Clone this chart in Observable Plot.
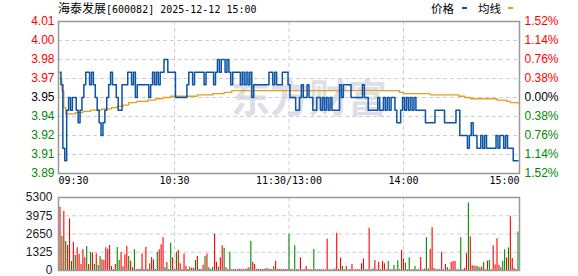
<!DOCTYPE html>
<html>
<head>
<meta charset="utf-8">
<script src="https://cdn.jsdelivr.net/npm/d3@7"></script>
<script src="https://cdn.jsdelivr.net/npm/@observablehq/plot@0.6"></script>
<style>
  html, body { margin: 0; padding: 0; background: #fff; }
  #wrap { position: relative; width: 578px; height: 276px; overflow: hidden; }
  .abs { position: absolute; white-space: nowrap; }
  .cjk { font-family: "Noto Sans CJK SC", sans-serif; font-size: 12px; }
  .mono { font-family: "DejaVu Sans Mono", monospace; font-size: 10px; }
</style>
</head>
<body>
<div id="wrap">
  <div id="price" class="abs" style="left:0;top:0"></div>
  <div id="vol" class="abs" style="left:0;top:190px"></div>
  <div id="title" class="abs" style="left:58px;top:0px;line-height:16px;color:#000"></div>
  <div id="legend" class="abs" style="left:0;top:0;width:578px;height:16px"></div>
</div>
<script>
// ---- data ----
const stockName = "海泰发展";
const stockMeta = "[600082] 2025-12-12 15:00";
const legendPrice = "价格";
const legendAvg = "均线";
const watermark = "东方财富";

const prevClose = 3.95;
const priceTicks = [3.89, 3.905, 3.92, 3.935, 3.95, 3.965, 3.98, 3.995, 4.01];
const priceLabels = ["3.89", "3.91", "3.92", "3.94", "3.95", "3.97", "3.98", "4.00", "4.01"];
const pctLabels = ["1.52%", "1.14%", "0.76%", "0.38%", "0.00%", "0.38%", "0.76%", "1.14%", "1.52%"];

const timeTicks = [0, 60, 120, 180, 240];
const timeLabels = ["09:30", "10:30", "11:30/13:00", "14:00", "15:00"];

const volTicks = [0, 1325, 2650, 3975, 5300];
const volLabels = ["0", "1325", "2650", "3975", "5300"];

// minute prices, index 0 = 09:30 ... 120 = 11:30/13:00 ... 240 = 15:00
const price = [
 3.97,3.96,3.91,3.90,3.94,3.95,3.94,3.95,3.95,3.94,
 3.93,3.94,3.95,3.96,3.97,3.97,3.96,3.97,3.96,3.95,
 3.94,3.93,3.92,3.93,3.94,3.95,3.96,3.97,3.96,3.96,
 3.95,3.94,3.94,3.96,3.96,3.96,3.97,3.97,3.96,3.97,
 3.95,3.96,3.96,3.96,3.96,3.96,3.96,3.95,3.96,3.97,
 3.96,3.97,3.96,3.97,3.97,3.98,3.98,3.97,3.97,3.97,
 3.97,3.95,3.95,3.95,3.95,3.95,3.95,3.96,3.97,3.97,
 3.96,3.97,3.97,3.97,3.97,3.97,3.96,3.97,3.97,3.97,
 3.97,3.96,3.97,3.98,3.97,3.98,3.98,3.97,3.98,3.97,
 3.96,3.97,3.97,3.97,3.97,3.96,3.97,3.96,3.97,3.96,
 3.97,3.95,3.96,3.96,3.96,3.96,3.96,3.96,3.96,3.96,
 3.97,3.97,3.96,3.97,3.96,3.96,3.96,3.97,3.97,3.97,
 3.96,
 3.95,3.95,3.95,3.94,3.94,3.95,3.96,3.95,3.95,3.96,
 3.95,3.95,3.94,3.94,3.95,3.95,3.94,3.95,3.94,3.95,
 3.94,3.95,3.94,3.94,3.94,3.94,3.96,3.95,3.96,3.96,
 3.96,3.96,3.95,3.95,3.95,3.95,3.95,3.95,3.96,3.95,
 3.95,3.94,3.94,3.94,3.94,3.94,3.95,3.94,3.94,3.95,
 3.94,3.95,3.94,3.95,3.95,3.94,3.93,3.93,3.94,3.95,
 3.94,3.95,3.94,3.95,3.94,3.95,3.94,3.94,3.94,3.94,
 3.94,3.93,3.93,3.93,3.93,3.93,3.94,3.94,3.94,3.94,
 3.94,3.93,3.93,3.93,3.93,3.93,3.93,3.94,3.94,3.92,
 3.92,3.92,3.92,3.91,3.92,3.93,3.92,3.92,3.91,3.91,
 3.92,3.91,3.92,3.91,3.91,3.91,3.91,3.91,3.92,3.91,
 3.92,3.92,3.91,3.92,3.91,3.91,3.91,3.90,3.90,3.90
];

// average price line, read as steps (minute index, value)
const avgMin = [0, 1, 2, 3, 8, 12, 16, 22, 27, 30, 33, 36, 40, 46, 50, 54, 58, 72, 80, 86, 90, 178, 180, 194, 209, 212, 215, 229, 234, 236, 240];
const avgVal = [3.965, 3.955, 3.942, 3.937, 3.938, 3.939, 3.940, 3.941, 3.942, 3.943, 3.944, 3.946, 3.947, 3.948, 3.949, 3.950, 3.951, 3.952, 3.953, 3.954, 3.9555, 3.954, 3.953, 3.952, 3.951, 3.950, 3.949, 3.948, 3.947, 3.946, 3.9455];

// minute volume
const vol = [
 4600,2470,4280,2100,1815,3750,650,2060,1090,1645,
 1160,435,1500,920,1740,435,1307,1270,435,1210,
 363,1016,774,726,1645,1549,1815,290,73,435,
 1670,726,1307,266,1137,1742,1016,677,194,1525,
 73,73,73,1200,73,1680,73,484,920,774,
 73,1330,1500,1864,2372,194,580,73,1984,920,
 73,1330,1450,484,73,1200,290,73,240,170,
 170,726,1016,73,73,387,1016,1200,194,73,
 240,2640,605,240,920,1800,1620,194,73,1330,
 60,80,70,60,90,70,60,80,100,194,
 2130,605,435,73,73,73,73,73,150,100,
 73,73,290,677,73,73,73,73,73,73,
 2614,80,60,1800,80,40,930,60,60,290,
 60,60,60,1530,60,60,60,60,60,60,
 2260,60,60,60,100,2700,80,900,290,60,
 290,60,60,430,60,60,60,60,480,840,
 60,60,3060,60,100,730,60,600,60,660,
 490,60,660,60,60,360,60,700,80,1460,
 840,520,60,930,60,60,290,60,60,940,
 60,100,2380,100,1540,3100,150,60,80,60,
 1320,60,440,200,60,580,650,650,60,60,
 2380,60,150,1220,4900,2450,340,320,300,290,
 180,260,580,60,680,720,60,1800,420,2300,
 380,200,675,1510,900,1640,3900,870,150,60,
 2800
];
// 1 = red (up), 0 = green (down)
const volUp = [
 1,0,1,0,1,1,0,1,0,1,
 1,1,1,1,0,1,0,1,0,1,
 0,0,1,1,1,1,1,1,0,1,
 0,0,1,1,1,1,0,1,1,0,
 1,1,1,1,1,1,1,0,1,1,
 1,0,1,1,1,0,1,1,0,1,
 1,0,1,1,1,1,1,1,0,1,
 1,0,1,1,1,1,0,1,0,1,
 0,1,1,0,1,1,0,1,1,0,
 1,1,1,1,1,1,1,1,1,1,
 0,1,1,1,1,1,1,1,1,0,
 1,1,0,1,1,1,1,1,1,1,
 0,1,1,0,1,1,1,1,1,1,
 1,1,1,0,1,0,1,1,1,1,
 1,1,1,0,1,1,1,1,0,1,
 1,1,1,1,1,1,1,1,1,1,
 1,0,1,1,0,1,1,1,1,1,
 1,1,0,1,1,0,1,0,0,1,
 1,0,1,0,1,1,0,1,1,1,
 1,1,0,1,1,1,1,1,1,1,
 1,1,1,0,1,1,1,1,1,1,
 0,1,1,1,0,1,1,1,0,0,
 1,1,0,1,1,0,1,1,1,1,
 1,0,0,0,1,0,1,1,1,1,
 0
];

// ---- build ----
const RED = "#ff0000", GREEN = "#008a00", BLUE = "#0b53a6", GOLD = "#e0a020";
const GRID = "#cfcfcf", FRAME = "#999999";
const pts = price.map((p, i) => ({i, p}));
const avgPts = avgMin.map((m, k) => ({i: m, p: avgVal[k]}));
const bars = vol.map((v, i) => ({i, v, up: volUp[i]}));
const levelColor = d => d > prevClose + 1e-9 ? RED : d < prevClose - 1e-9 ? GREEN : "#000";
const priceGrid = priceTicks.slice(1, -1);
const timeGrid = timeTicks.slice(1, -1);
const volGrid = volTicks.slice(1, -1);
const xOpts = {domain: [0, 240], insetLeft: 1.5, insetRight: 1.5, axis: null};
const monoFont = "DejaVu Sans Mono, monospace";

const pricePlot = Plot.plot({
  width: 578, height: 190,
  marginTop: 21, marginBottom: 17, marginLeft: 58, marginRight: 59,
  style: {fontFamily: "Liberation Sans, Arial, sans-serif", fontSize: "12px", background: "transparent", overflow: "visible"},
  x: xOpts,
  y: {domain: [3.89, 4.01], axis: null},
  color: {type: "identity"},
  marks: [
    Plot.text([watermark], {frameAnchor: "middle", dx: 20, dy: 2, text: d => d, fill: "#dedee6", fontSize: 39, fontWeight: "bold", fontFamily: "Noto Sans CJK SC"}),
    Plot.ruleY(priceGrid, {stroke: GRID, strokeDasharray: "4,3"}),
    Plot.ruleX(timeGrid, {stroke: GRID, strokeDasharray: "4,3"}),
    Plot.line(avgPts, {x: "i", y: "p", stroke: GOLD, strokeWidth: 1.3, curve: "step-after"}),
    Plot.line(pts, {x: "i", y: "p", stroke: BLUE, strokeWidth: 1.5, curve: "step"}),
    Plot.frame({stroke: FRAME, strokeWidth: 1.5}),
    Plot.text(priceTicks, {y: d => d, text: (d, i) => priceLabels[i], frameAnchor: "left", dx: -4, textAnchor: "end", fill: levelColor, fontSize: 12}),
    Plot.text(priceTicks, {y: d => d, text: (d, i) => pctLabels[i], frameAnchor: "right", dx: 5, textAnchor: "start", fill: levelColor, fontSize: 12}),
    Plot.text([0], {x: k => timeTicks[k], text: k => timeLabels[k], frameAnchor: "bottom", dy: 10, dx: -1.5, textAnchor: "start", fontFamily: monoFont, fontSize: 10, fill: "#000"}),
    Plot.text([1, 2, 3], {x: k => timeTicks[k], text: k => timeLabels[k], frameAnchor: "bottom", dy: 10, textAnchor: "middle", fontFamily: monoFont, fontSize: 10, fill: "#000"}),
    Plot.text([4], {x: k => timeTicks[k], text: k => timeLabels[k], frameAnchor: "bottom", dy: 10, dx: 1.5, textAnchor: "end", fontFamily: monoFont, fontSize: 10, fill: "#000"})
  ]
});
document.getElementById("price").appendChild(pricePlot);

const volPlot = Plot.plot({
  width: 578, height: 86,
  marginTop: 7, marginBottom: 6, marginLeft: 58, marginRight: 59,
  style: {fontFamily: "Liberation Sans, Arial, sans-serif", fontSize: "12px", background: "transparent", overflow: "visible"},
  x: xOpts,
  y: {domain: [0, 5300], axis: null},
  color: {type: "identity"},
  marks: [
    Plot.ruleY(volGrid, {stroke: GRID, strokeDasharray: "4,3"}),
    Plot.ruleX(timeGrid, {stroke: GRID, strokeDasharray: "4,3"}),
    Plot.ruleX(bars, {x: "i", y1: 0, y2: "v", stroke: d => d.up ? RED : GREEN, strokeWidth: 1.1}),
    Plot.frame({stroke: FRAME, strokeWidth: 1.5}),
    Plot.text(volTicks, {y: d => d, text: (d, i) => volLabels[i], frameAnchor: "left", dx: -6, textAnchor: "end", fill: "#1a1a2a", fontSize: 12})
  ]
});
document.getElementById("vol").appendChild(volPlot);

// title
const t = document.getElementById("title");
t.innerHTML = `<span class="cjk">${stockName}</span><span class="mono">${stockMeta}</span>`;

// legend
const lg = document.getElementById("legend");
lg.innerHTML =
  `<span class="abs cjk" style="left:431px;top:0;line-height:16px;font-size:11.5px">${legendPrice}</span>` +
  `<span class="abs" style="left:462px;top:7px;width:5px;height:2px;background:${BLUE}"></span>` +
  `<span class="abs cjk" style="left:478px;top:0;line-height:16px;font-size:11.5px">${legendAvg}</span>` +
  `<span class="abs" style="left:508px;top:7px;width:5px;height:2px;background:${GOLD}"></span>`;
</script>
</body>
</html>
